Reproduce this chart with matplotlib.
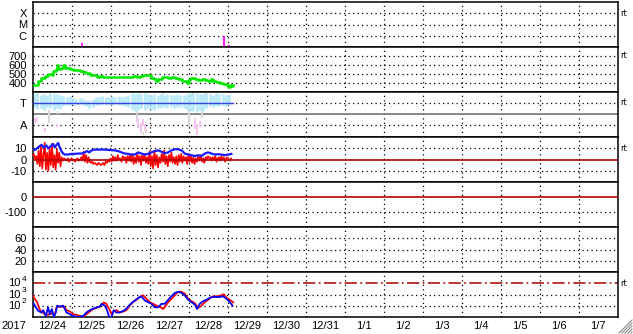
import numpy as np
import matplotlib
matplotlib.use('Agg')
import matplotlib.pyplot as plt
import matplotlib.transforms as mtransforms
from matplotlib.ticker import NullLocator
from matplotlib.lines import Line2D

plt.rcParams['font.family'] = ['Liberation Sans', 'DejaVu Sans']
plt.rcParams['mathtext.default'] = 'regular'

# ---------------- data (time in hours since 2017-12-24 00:00) ----------------
day_labels = ['12/24', '12/25', '12/26', '12/27', '12/28', '12/29', '12/30', '12/31',
              '1/1', '1/2', '1/3', '1/4', '1/5', '1/6', '1/7']
year_label = '2017'

# X-ray flare events
flare_t = [15.4, 30.5, 117.9, 120.8]
flare_v = [1.3e-7, 2.1e-7, 1.0e-6, 1.4e-7]

# Solar wind speed (km/s)
speed_t = [0.4, 2.4, 3.5, 5.5, 7.6, 9.6, 11.7, 12.7, 14.3, 15.2, 15.8, 16.8, 17.8, 18.9,
           19.9, 20.9, 23.0, 25.0, 27.1, 29.1, 31.2, 33.2, 35.3, 37.3, 39.4, 41.4, 43.5,
           47.6, 51.7, 53.7, 55.8, 59.9, 61.9, 64.0, 66.0, 68.1, 70.1, 71.8, 73.2, 74.6,
           75.9, 77.3, 79.4, 81.4, 83.5, 85.5, 87.6, 89.6, 91.7, 93.1, 94.8, 96.4, 97.8,
           99.9, 101.9, 104.0, 106.0, 108.1, 110.1, 111.2, 113.2, 115.3, 117.3, 119.4,
           120.4, 121.4, 122.4, 123.5]
speed_v = [381, 382, 418, 455, 473, 500, 492, 529, 559, 603, 559, 559, 567, 596,
           570, 567, 559, 548, 544, 537, 526, 511, 492, 485, 470, 474, 470,
           470, 470, 463, 466, 466, 474, 463, 481, 488, 492, 485, 455, 440,
           426, 440, 463, 463, 455, 463, 455, 440, 426, 418, 398, 440, 455,
           440, 433, 440, 433, 426, 448, 426, 411, 398, 389, 381,
           359, 374, 367, 381]

# IMF sector (T / A): bands of points (hour, low, high)
toward_t = list(range(1, 123, 2))
toward_hi = [1.85, 1.9, 1.7, 1.8, 1.75, 1.9, 1.8, 1.85, 1.7, 1.6, 1.55, 1.6, 1.45, 1.4, 1.45,
             1.35, 1.3, 1.25, 1.35, 1.5, 1.55, 1.6, 1.55, 1.5, 1.6, 1.55, 1.6, 1.55, 1.65,
             1.7, 1.9, 1.85, 1.9, 1.8, 1.9, 1.85, 1.75, 1.8, 1.7, 1.85, 1.7, 1.8, 1.75,
             1.7, 1.8, 1.75, 1.7, 1.85, 1.9, 1.8, 1.9, 1.85, 1.8, 1.9, 1.85, 1.75, 1.9,
             1.8, 1.85, 1.75, 1.7]
toward_lo = [0.6, 0.45, 0.55, 0.4, 0.6, 0.5, 0.35, 0.55, 0.45, 0.7, 0.8, 0.85, 0.9, 0.85, 0.9,
             0.85, 0.7, 0.55, 0.65, 0.8, 0.85, 0.9, 0.85, 0.9, 0.85, 0.9, 0.8, 0.85, 0.75,
             0.6, 0.45, 0.3, 0.4, 0.5, 0.35, 0.5, 0.45, 0.4, 0.55, 0.5, 0.6, 0.55, 0.6,
             0.55, 0.65, 0.6, 0.5, 0.4, 0.25, 0.3, 0.2, 0.35, 0.3, 0.5, 0.7, 0.6, 0.75,
             0.7, 0.8, 0.75, 0.8]
gray_t = [10, 15.6, 64, 68, 70, 80, 96, 99, 101, 104, 107]
gray_lo = [-0.8, 0.0, -0.7, -1.9, -1.7, 1.75, -1.2, 1.6, -1.9, -0.4, 1.7]
gray_hi = [0.4, 0.3, 0.3, -1.6, -1.4, 2.0, 0.3, 2.0, -0.9, 0.35, 2.0]
away_t = [1.8, 2.8, 7.6, 15.0, 65, 66.5, 68, 69.5, 100, 101.5, 103]
away_lo = [-0.8, -0.6, -1.6, -1.15, -1.3, -1.7, -1.1, -1.5, -1.4, -1.9, -1.2]
away_hi = [-0.35, -0.3, -1.25, -0.9, -0.35, -0.8, -0.5, -0.9, -0.35, -1.0, -0.6]
sector_end = 123.5

# IMF Bt (nT)
bt_t = [0.0, 1.4, 2.8, 4.1, 5.5, 7.0, 8.6, 9.6, 11.1, 12.7, 13.7, 14.8, 15.8, 16.8, 17.8,
        18.9, 19.9, 21.9, 24.0, 26.0, 28.1, 30.1, 32.2, 33.6, 34.9, 36.3, 38.3, 41.4,
        44.5, 47.6, 50.6, 52.7, 54.8, 56.8, 58.8, 60.9, 63.0, 65.0, 67.1, 69.1, 71.2,
        73.2, 75.3, 77.3, 79.4, 81.4, 83.5, 85.5, 87.6, 89.6, 91.7, 93.7, 95.8, 97.8,
        99.9, 101.9, 104.0, 106.0, 108.1, 110.1, 112.2, 114.2, 116.3, 118.3, 120.4, 122.4]
bt_v = [9.4, 8.4, 10, 11.6, 13.1, 10.6, 12.5, 10, 11.6, 13.8, 10.6, 13.1, 14.7, 10.6, 7.5,
        5.3, 4.4, 4.4, 5.0, 5.0, 5.3, 5.3, 6.3, 7.5, 6.3, 8.1, 8.8, 8.8,
        8.8, 8.4, 8.1, 7.5, 6.3, 5.3, 5.0, 4.4, 4.4, 6.3, 5.3, 4.4, 5.0,
        6.3, 7.5, 8.1, 6.9, 5.6, 6.3, 8.1, 9.1, 9.1, 8.1, 5.3, 4.4, 3.8,
        3.1, 3.8, 3.1, 5.3, 6.3, 5.3, 4.4, 4.7, 4.4, 3.8, 4.4, 5.0]

# IMF Bz (nT), one value every 0.75 h from 00:00
bz_step = 0.75
bz_v = [2, 5, 1, 3, -4, 8, -6, 12, -8, 3, 15, -9, 6, -10, 10, -5,
        14, -7, 4, -9, 9, -3, 6, -6, 2, -1, 1, 0, -1, 1, -2, 0,
        1, -1, 0, -2, 0, 1, -1, 0, 2, -1, 7, -2, 4, -3, 2, -2,
        -3, -2, -4, -3, -4, -5, -3, -4, -5, -4, -3, -5, -2, -3, -1, -2,
        1, -2, 3, -1, 2, -1, 4, 0, 1, -2, 3, 1, 2, -3, 3, -1,
        4, -2, 5, -4, 2, -3, 6, -2, 3, -5, 4, -1, 5, -3, 2, -4,
        7, -6, 3, -8, 8, -5, 4, -7, 2, -3, 5, -2, 8, -4, 3, -6,
        4, -2, 6, -3, 2, -4, 3, -5, 4, -2, 5, -3, 3, -1, 2, -4,
        5, -2, 3, -3, 2, -4, 1, -2, 3, -1, 4, -2, 1, -3, 2, 0,
        3, 1, 2, -1, 2, 0, 3, -2, 1, 2, -1, 3, 0, 2, -2, 1,
        2, 0, -1, 1]

# Proton flux (log10 pfu)
p10_t = [0.0, 1.4, 2.8, 4.1, 4.9, 6.1, 7.6, 9.6, 11.7, 13.7, 14.8, 15.8, 17.8, 19.9, 20.9,
         23.0, 25.0, 27.1, 29.1, 31.2, 33.2, 35.3, 37.3, 39.4, 41.4, 43.1, 43.9, 45.5,
         46.5, 47.6, 48.6, 50.0, 51.7, 53.7, 55.8, 57.8, 59.9, 61.9, 64.0, 66.0, 68.1,
         70.1, 72.2, 74.2, 76.3, 78.3, 80.4, 82.0, 83.5, 85.5, 87.6, 89.6, 91.7, 93.7,
         95.8, 97.8, 99.9, 101.9, 104.0, 106.0, 108.1, 110.1, 112.2, 114.2, 116.3, 117.7,
         119.4, 121.4, 123.5]
p10_log = [2.93, 2.62, 2.32, 1.80, 1.55, 1.40, 1.25, 1.19, 1.31, 1.19, 1.86, 1.92, 1.92, 1.86,
           1.61, 1.49, 1.25, 1.19, 1.09, 1.0, 1.25, 1.49, 1.71, 1.80, 1.92, 2.17, 2.29, 2.17,
           1.86, 1.61, 1.25, 1.49, 1.61, 1.40, 1.49, 1.61, 2.01, 2.32, 2.53, 2.78, 2.93,
           2.62, 2.32, 2.17, 2.01, 1.92, 1.71, 2.01, 2.32, 2.62, 2.93, 3.24, 3.24, 3.08,
           2.62, 2.41, 2.23, 1.80, 2.01, 2.32, 2.53, 2.78, 2.84, 2.84, 2.93, 3.02,
           2.71, 2.53, 2.29]
p1_t = [0.0, 0.8, 2.1, 3.5, 5.5, 6.6, 8.2, 9.6, 10.6, 11.9, 13.1, 14.3, 15.2, 16.8, 18.9,
        20.9, 23.0, 25.0, 28.1, 31.2, 33.2, 35.3, 38.4, 41.4, 42.5, 44.5, 46.0, 47.2,
        48.6, 50.0, 51.7, 53.7, 56.8, 58.8, 60.9, 62.9, 65.0, 67.0, 69.1, 71.1, 73.2,
        75.2, 77.3, 79.4, 81.4, 83.5, 85.5, 87.6, 89.6, 91.7, 93.7, 95.8, 97.8, 99.9,
        101.3, 102.9, 105.0, 107.1, 109.1, 111.2, 113.2, 115.3, 117.3, 119.4, 121.4, 123.1]
p1_log = [2.32, 2.17, 1.86, 1.55, 1.40, 1.61, 1.09, 1.86, 1.25, 1.71, 1.0, 1.40, 2.01, 1.92, 2.01,
          1.40, 1.25, 1.09, 1.0, 1.09, 1.40, 1.61, 1.80, 1.92, 2.17, 2.01, 1.55, 1.0,
          1.0, 1.61, 1.40, 1.40, 1.61, 1.92, 2.23, 2.47, 2.68, 2.84, 2.47, 2.32, 2.17,
          1.86, 1.86, 2.17, 2.17, 2.53, 2.84, 3.14, 3.24, 3.14, 2.93, 2.53, 2.32, 2.10,
          1.71, 2.17, 2.41, 2.53, 2.71, 2.78, 2.78, 2.78, 2.84, 2.62, 2.32, 2.01]
proton_exps = [2, 3, 4]

# ---------------- layout ----------------
W, H = 633, 334
fig = plt.figure(figsize=(W / 100, H / 100), dpi=100)
LEFT, RIGHT = 32.5, 617.5
TOPS = [2, 47, 92, 137, 182, 227, 272]
PH = 45
DOT = (0, (1, 2.6))
GRID_KW = dict(color='black', lw=0.9, ls=DOT, zorder=1)
FS = 8

axes = []
for i, top in enumerate(TOPS):
    ax = fig.add_axes([LEFT / W, 1 - (top + PH) / H, (RIGHT - LEFT) / W, PH / H])
    ax.set_xlim(0, 360)
    for d in range(1, 15):
        ax.axvline(24 * d, **GRID_KW)
    for s in ax.spines.values():
        s.set_linewidth(1.1)
        s.set_color('black')
    ax.tick_params(axis='both', length=0, pad=4, labelsize=FS)
    ax.set_xticks([])
    axes.append(ax)

def hgrid(ax, ys):
    for y in ys:
        ax.axhline(y, **GRID_KW)

def rt(ax, y):
    tr = mtransforms.blended_transform_factory(ax.transAxes, ax.transData)
    ax.text(1.004, y, 'rt', transform=tr, fontsize=6, va='center', ha='left',
            family='DejaVu Sans', clip_on=False)

# Panel 1: X-ray
ax = axes[0]
ax.set_yscale('log')
ax.set_ylim(1e-7, 1e-3)
ax.yaxis.set_minor_locator(NullLocator())
ax.set_yticks([1e-6, 1e-5, 1e-4])
ax.set_yticklabels(['C', 'M', 'X'])
hgrid(ax, [1e-6, 1e-5, 1e-4])
ax.vlines(flare_t, 1e-7, flare_v, colors='#ff00ff', lw=1.3, zorder=3)
rt(ax, 1e-4)

# Panel 2: speed
ax = axes[1]
ax.set_ylim(300, 800)
ax.set_yticks([400, 500, 600, 700])
hgrid(ax, [400, 500, 600, 700])
ax.plot(speed_t, speed_v, color='#00e600', lw=1.8, drawstyle='steps-post', zorder=3)
rt(ax, 700)

# Panel 3: sector
ax = axes[2]
ax.set_ylim(-2.1, 2.0)
ax.set_yticks([1, -1])
ax.set_yticklabels(['T', 'A'])
hgrid(ax, [1, -1])
ax.axhline(0, color='#808080', lw=1.3, zorder=1.5)
ax.vlines(gray_t, gray_lo, gray_hi, colors='#d8d8d8', lw=1.4, zorder=2)
ax.vlines(toward_t, toward_lo, toward_hi, colors='#b4e8f8', lw=1.9, zorder=2.5)
ax.vlines(away_t, away_lo, away_hi, colors='#f5c2f0', lw=1.4, zorder=2.5)
ax.plot([0, sector_end], [1, 1], color='#3344ee', lw=1.0, zorder=3)
rt(ax, 1)

# Panel 4: IMF
ax = axes[3]
ax.set_ylim(-20, 20)
ax.set_yticks([10, 0, -10])
ax.set_yticklabels(['10', '0', '-10'])
hgrid(ax, [10, -10])
bz_t = np.arange(len(bz_v)) * bz_step
ax.plot(bz_t, bz_v, color='#ff0000', lw=1.2, zorder=3)
ax.axhline(0, color='#b00000', lw=1.2, zorder=3.5)
ax.plot(bt_t, bt_v, color='#1a1aff', lw=1.6, zorder=4)
rt(ax, 10)

# Panel 5: Dst
ax = axes[4]
ax.set_ylim(-200, 100)
ax.set_yticks([0, -100])
ax.set_yticklabels(['0', '-100'])
hgrid(ax, [-100])
ax.axhline(0, color='#b00000', lw=1.2, zorder=3)

# Panel 6
ax = axes[5]
ax.set_ylim(0, 80)
ax.set_yticks([20, 40, 60])
hgrid(ax, [20, 40, 60])

# Panel 7: protons
ax = axes[6]
ax.set_yscale('log')
ax.set_ylim(10, 1e5)
ax.yaxis.set_minor_locator(NullLocator())
ax.set_yticks([])
tr = mtransforms.blended_transform_factory(fig.transFigure, ax.transData)
off = mtransforms.ScaledTranslation(0, 4 / 100, fig.dpi_scale_trans)
for e in proton_exps:
    ax.text(20.5 / W, 10.0 ** e, '10', transform=tr, fontsize=FS, ha='right', va='center')
    ax.text(21.5 / W, 10.0 ** e, str(e), transform=tr + off, fontsize=6, ha='left', va='center')
hgrid(ax, [1e2, 1e3])
ax.axhline(1e4, color='#b00000', lw=1.1, ls=(0, (8, 2.2, 1.2, 2.2)), zorder=2)
ax.plot(p10_t, 10 ** np.array(p10_log), color='#ff0000', lw=1.3, zorder=3)
ax.plot(p1_t, 10 ** np.array(p1_log), color='#0000ff', lw=1.3, zorder=3.5)
rt(ax, 1e4)
ax.set_xticks([24 * d + 12 for d in range(15)])
ax.set_xticklabels(day_labels)
ax.tick_params(axis='x', length=0, pad=3, labelsize=FS)

fig.text(1 / W, 1 - 326 / H, year_label, fontsize=FS, ha='left', va='center')

# window resize grip
for k in [0, 3, 6, 9, 12]:
    fig.add_artist(Line2D([(619 + k) / W, 632 / W], [1 - 333 / H, 1 - (320 + k) / H],
                          color='#8a8a8a', lw=0.8, transform=fig.transFigure))

fig.savefig('out.png', dpi=100)
